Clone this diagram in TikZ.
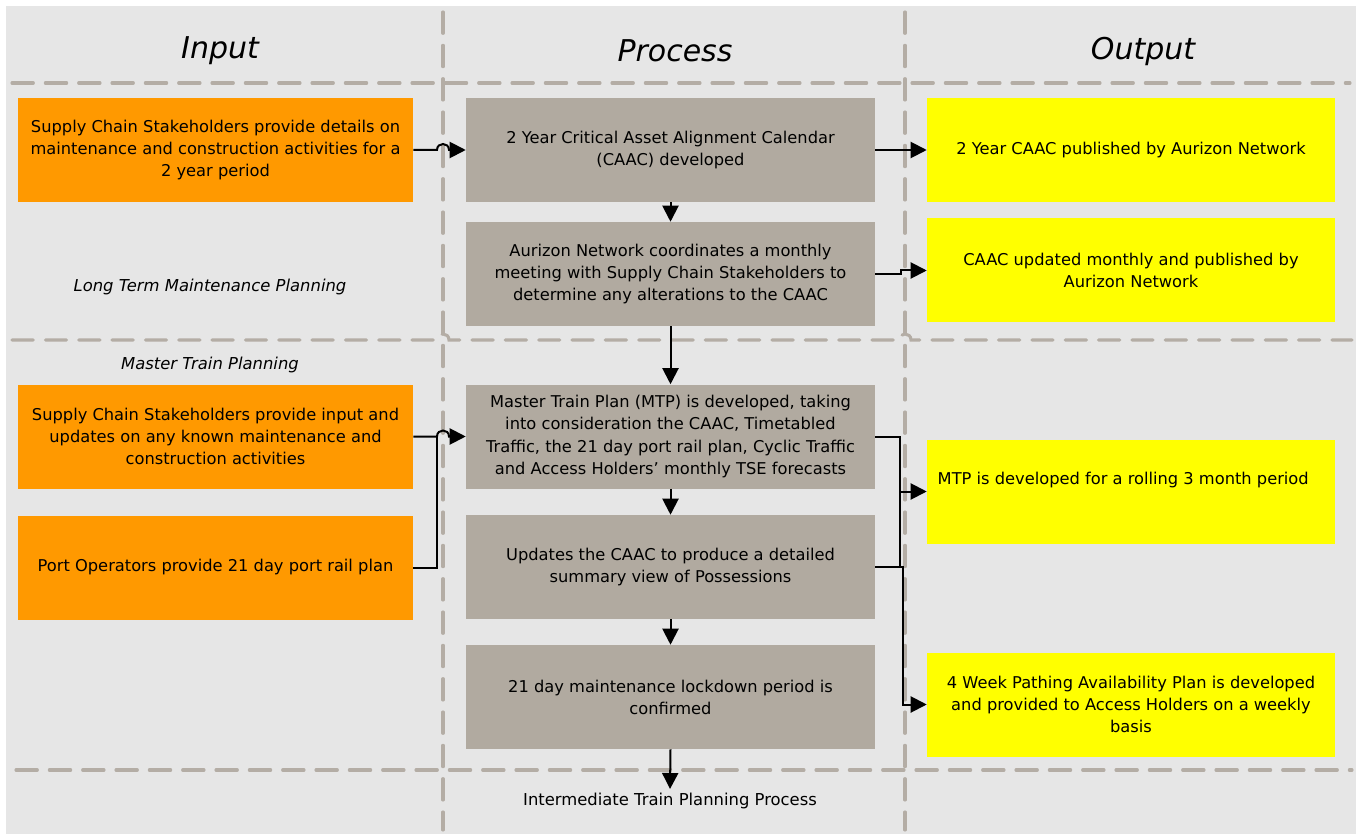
\documentclass[tikz,border=0pt]{standalone}
\usepackage{fontspec}
\setmainfont{DejaVu Sans}
\usetikzlibrary{arrows.meta}
\definecolor{bgc}{HTML}{E6E6E6}
\definecolor{dashc}{HTML}{B4ADA5}
\definecolor{orangec}{HTML}{FF9900}
\definecolor{greyc}{HTML}{B1AAA0}
\definecolor{yellowc}{HTML}{FFFF00}
\tikzset{
  box/.style={rectangle, inner sep=4pt, align=center, font=\fontsize{12.2}{16.6}\selectfont,
    minimum height=78pt},
  inbox/.style={box, fill=orangec, minimum width=296.25pt},
  procbox/.style={box, fill=greyc, minimum width=306.75pt},
  outbox/.style={box, fill=yellowc, minimum width=306pt},
  heading/.style={font=\fontsize{22.5}{26}\selectfont\itshape},
  lab/.style={font=\fontsize{12.3}{14}\selectfont\itshape},
  divider/.style={draw=dashc, line width=2.3pt, dash pattern=on 16pt off 9pt, line cap=round},
  conn/.style={draw=black, line width=1.5pt, -{Triangle[length=12pt,width=12pt]}},
  plain/.style={draw=black, line width=1.5pt},
}
\begin{document}
\begin{tikzpicture}[x=0.75pt,y=-0.75pt]
\useasboundingbox (0,0) rectangle (1360,834);
\fill[bgc] (6,6) rectangle (1356,834);
% dividers
\draw[divider] (443,12) -- (443,830);
\draw[divider] (905,12) -- (905,830);
\draw[divider] (12,83) -- (1350,83);
\draw[divider] (12,340) -- (437,340) .. controls (437,332) and (449,332) .. (449,340) -- (899,340) .. controls (899,332) and (911,332) .. (911,340) -- (1352,340);
\draw[divider] (16,770) -- (1352,770);
% headings
\node[heading] (hin) at (220,51) {Input};
\node[heading] (hproc) at (675,51) {Process};
\node[heading] (hout) at (1143,51) {Output};
% labels
\node[lab] (ltm) at (210,287) {Long Term Maintenance Planning};
\node[lab] (mtp) at (210,365) {Master Train Planning};
\node[font=\fontsize{12.3}{14}\selectfont] (itp) at (670,801) {Intermediate Train Planning Process};
% input boxes
\node[inbox] (i1) at (215.5,150) {Supply Chain Stakeholders provide details on\\maintenance and construction activities for a\\2 year period};
\node[inbox] (i2) at (215.5,436.5) {Supply Chain Stakeholders provide input and\\updates on any known maintenance and\\construction activities};
\node[inbox] (i3) at (215.5,567.5) {Port Operators provide 21 day port rail plan};
% process boxes
\node[procbox] (p1) at (670.5,150) {2 Year Critical Asset Alignment Calendar\\(CAAC) developed};
\node[procbox] (p2) at (670.5,274) {Aurizon Network coordinates a monthly\\meeting with Supply Chain Stakeholders to\\determine any alterations to the CAAC};
\node[procbox] (p3) at (670.5,436.5) {Master Train Plan (MTP) is developed, taking\\into consideration the CAAC, Timetabled\\Traffic, the 21 day port rail plan, Cyclic Traffic\\and Access Holders' monthly TSE forecasts};
\node[procbox] (p4) at (670.5,567) {Updates the CAAC to produce a detailed\\summary view of Possessions};
\node[procbox] (p5) at (670.5,697) {21 day maintenance lockdown period is\\confirmed};
% output boxes
\node[outbox] (o1) at (1131,150) {2 Year CAAC published by Aurizon Network};
\node[outbox] (o2) at (1131,270.5) {CAAC updated monthly and published by\\Aurizon Network};
\node[outbox] (o3) at (1131,491.5) {};
\node[font=\fontsize{12.2}{16.6}\selectfont, anchor=west] (o3t) at (933,480) {MTP is developed for a rolling 3 month period};
\node[outbox] (o4) at (1131,704.5) {4 Week Pathing Availability Plan is developed\\and provided to Access Holders on a weekly\\basis};
% connectors
\coordinate (itpin) at (670,789);
\draw[conn] (i1.east) -- (437,150) .. controls (437,142) and (449,142) .. (449,150) -- (p1.west);
\draw[conn] (p1.east) -- (o1.west);
\draw[conn] (p2.east) -- (901,274) -- (901,270.5) -- (o2.west);
\draw[conn] (p1.south) -- (p2.north);
\draw[conn] (p2.south) -- (p3.north);
\draw[conn] (p3.south) -- (p4.north);
\draw[conn] (p4.south) -- (p5.north);
\draw[conn] (p5.south) -- (itpin);
\draw[conn] (i2.east) -- (437,436.5) .. controls (437,428.5) and (449,428.5) .. (449,436.5) -- (p3.west);
\draw[plain] (i3.east) -- (437,567.5) -- (437,436.5);
\draw[conn] (p3.east) -- (900,436.5) -- (900,491.5) -- (o3.west);
\draw[plain] (p4.east) -- (900,567) -- (900,491.5);
\draw[conn] (p4.east) -- (903,567) -- (903,704.5) -- (o4.west);
\end{tikzpicture}
\end{document}
